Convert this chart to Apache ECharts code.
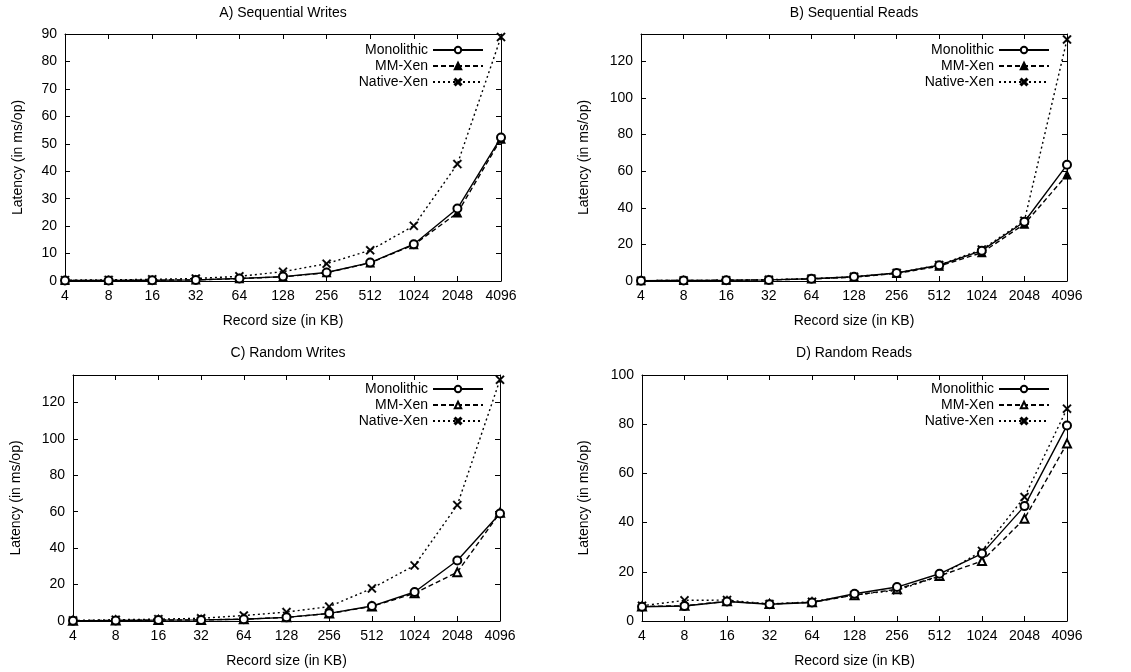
<!DOCTYPE html>
<html><head><meta charset="utf-8">
<script src="https://cdn.jsdelivr.net/npm/echarts@6/dist/echarts.min.js"></script>
<style>html,body{margin:0;padding:0;background:#fff}#c{width:1131px;height:672px}</style>
</head><body><div id="c"></div>
<script>
const recordSizes = ['4','8','16','32','64','128','256','512','1024','2048','4096'];
const seriesNames = ['Monolithic','MM-Xen','Native-Xen'];
const panelTitles = ['A) Sequential Writes','B) Sequential Reads','C) Random Writes','D) Random Reads'];
const xAxisName = 'Record size (in KB)';
const yAxisName = 'Latency (in ms/op)';

// A) Sequential Writes
const seqWriteMono   = [0.2,0.2,0.3,0.4,0.9,1.6,3.1,6.7,13.4,26.4,52.3];
const seqWriteMM     = [0.2,0.2,0.3,0.4,0.9,1.5,3.0,6.6,13.2,24.8,51.7];
const seqWriteNative = [0.3,0.4,0.6,0.9,1.7,3.4,6.3,11.2,20.1,42.6,88.9];
// B) Sequential Reads
const seqReadMono   = [0.2,0.3,0.4,0.6,1.2,2.3,4.4,8.6,16.6,32.4,63.5];
const seqReadMM     = [0.2,0.3,0.4,0.6,1.1,2.1,4.1,8.1,15.5,31.1,58.0];
const seqReadNative = [0.2,0.3,0.4,0.7,1.3,2.3,4.4,8.7,17.2,32.9,132.0];
// C) Random Writes
const randWriteMono   = [0.2,0.3,0.5,0.6,1.0,2.0,4.2,8.2,15.9,33.2,59.0];
const randWriteMM     = [0.2,0.3,0.5,0.6,1.0,2.0,4.1,8.0,15.2,26.8,59.4];
const randWriteNative = [0.3,0.7,1.0,1.5,3.0,4.9,7.9,17.9,30.5,63.6,132.4];
// D) Random Reads
const randReadMono   = [5.8,6.1,7.9,6.8,7.5,11.1,13.8,19.2,27.4,46.7,79.5];
const randReadMM     = [5.9,6.2,8.0,6.9,7.6,10.5,12.9,18.3,24.4,41.6,72.2];
const randReadNative = [6.2,8.4,8.5,6.9,7.8,10.6,12.5,18.2,28.5,50.4,86.3];

const panelData = [
  [seqWriteMono, seqWriteMM, seqWriteNative],
  [seqReadMono, seqReadMM, seqReadNative],
  [randWriteMono, randWriteMM, randWriteNative],
  [randReadMono, randReadMM, randReadNative]
];
const yMax = [90,135,135,100];
const yInterval = [10,20,20,20];

// layout
const grids = [
  {left:65, right:630, top:34, height:247},
  {left:641, right:64, top:34, height:247},
  {left:73, right:631, top:375, height:246},
  {left:642, right:64, top:375, height:246}
];
const titlePos = [
  {left:278, top:1}, {left:849, top:1}, {left:283, top:341}, {left:849, top:341}
];
const legendPos = [
  {right:647, top:43}, {right:81, top:43}, {right:647, top:382}, {right:81, top:382}
];
const yNameGap = [40, 50, 50, 51];

const FONT = 'Liberation Sans, Arial, Helvetica, sans-serif';
const crossPath = 'path://M0,1.3L1.3,0L5,3.7L8.7,0L10,1.3L6.3,5L10,8.7L8.7,10L5,6.3L1.3,10L0,8.7L3.7,5Z';
const lineTypes = ['solid', [5,3], [2,3]];

const option = {
  backgroundColor:'#fff',
  animation:false,
  textStyle:{fontFamily:FONT, color:'#000'},
  title:[], grid:[], xAxis:[], yAxis:[], legend:[], series:[]
};

for (let p=0;p<4;p++){
  option.title.push({
    text: panelTitles[p], left: titlePos[p].left, top: titlePos[p].top, textAlign:'center',
    textStyle:{fontFamily:FONT, fontSize:14, fontWeight:'normal', color:'#000'}
  });
  option.grid.push(Object.assign({containLabel:false}, grids[p]));
  const tickStyle = {show:true, inside:true, length:5, lineStyle:{color:'#000', width:1}};
  option.xAxis.push({
    type:'category', gridIndex:p, data:recordSizes, boundaryGap:false,
    name:xAxisName, nameLocation:'middle', nameGap:33,
    nameTextStyle:{fontFamily:FONT, fontSize:14, color:'#000'},
    axisLine:{show:true, onZero:false, lineStyle:{color:'#000', width:1}},
    axisTick:Object.assign({alignWithLabel:true}, tickStyle),
    axisLabel:{fontFamily:FONT, fontSize:14, color:'#000', margin:8, interval:0},
    splitLine:{show:false}
  });
  option.xAxis.push({
    type:'category', gridIndex:p, data:recordSizes, boundaryGap:false, position:'top',
    axisLine:{show:true, onZero:false, lineStyle:{color:'#000', width:1}},
    axisTick:tickStyle, axisLabel:{show:false}, splitLine:{show:false}
  });
  option.yAxis.push({
    type:'value', gridIndex:p, min:0, max:yMax[p], interval:yInterval[p],
    name:yAxisName, nameLocation:'middle', nameGap:yNameGap[p],
    nameTextStyle:{fontFamily:FONT, fontSize:14, color:'#000'},
    axisLine:{show:true, lineStyle:{color:'#000', width:1}},
    axisTick:tickStyle,
    axisLabel:{fontFamily:FONT, fontSize:14, color:'#000', margin:8, showMaxLabel: yMax[p] % yInterval[p] === 0},
    splitLine:{show:false}
  });
  option.yAxis.push({
    type:'value', gridIndex:p, min:0, max:yMax[p], interval:yInterval[p], position:'right',
    axisLine:{show:true, lineStyle:{color:'#000', width:1}},
    axisTick:tickStyle, axisLabel:{show:false}, splitLine:{show:false}
  });
  const names = [];
  const symbols = ['emptyCircle', p<2 ? 'triangle' : 'emptyTriangle', crossPath];
  const sizes = [8, 8, 9];
  const borders = [1.4, 1.2, 0.3];
  for (let s=0;s<3;s++){
    const nm = panelTitles[p].charAt(0) + ':' + seriesNames[s];
    names.push(nm);
    option.series.push({
      type:'line', name:nm, xAxisIndex:2*p, yAxisIndex:2*p,
      data: panelData[p][s],
      symbol: symbols[s], symbolSize: sizes[s], showAllSymbol:true,
      lineStyle:{color:'#000', width:1.4, type: lineTypes[s]},
      itemStyle:{color:'#000', borderColor:'#000', borderWidth:borders[s]},
      z: 3-s
    });
  }
  option.legend.push({
    data:names, orient:'vertical', align:'right',
    right:legendPos[p].right, top:legendPos[p].top, padding:0,
    itemWidth:50, itemHeight:8, itemGap:2, itemTextGap:2,
    selectedMode:false,
    formatter: n => n.split(':')[1],
    textStyle:{fontFamily:FONT, fontSize:14, color:'#000', lineHeight:13}
  });
}

const chart = echarts.init(document.getElementById('c'), null, {renderer:'canvas'});
chart.setOption(option);
</script>
</body></html>
